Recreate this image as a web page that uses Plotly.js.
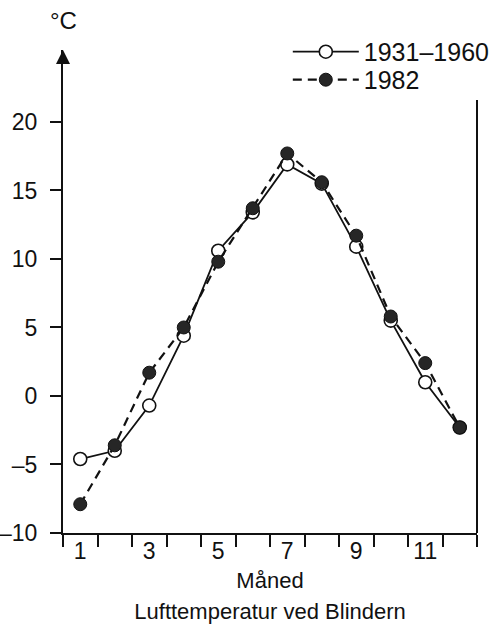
<!DOCTYPE html>
<html>
<head>
<meta charset="utf-8">
<script src="https://cdn.plot.ly/plotly-3.0.1.min.js"></script>
<style>
  html, body { margin: 0; padding: 0; background: #fff; }
  #chart { width: 502px; height: 630px; }
</style>
</head>
<body>
<div id="chart"></div>
<script>
// ---- data ----
const months = [1, 2, 3, 4, 5, 6, 7, 8, 9, 10, 11, 12];
const temp_1931_1960 = [-4.6, -4.0, -0.7, 4.4, 10.6, 13.4, 16.9, 15.5, 10.9, 5.5, 1.0, -2.3];
const temp_1982 = [-7.9, -3.6, 1.7, 5.0, 9.8, 13.7, 17.7, 15.6, 11.7, 5.8, 2.4, -2.3];
const xLabelVals = [1, 3, 5, 7, 9, 11];
const xLabelText = ['1', '3', '5', '7', '9', '11'];
const monthBounds = [0.5, 1.5, 2.5, 3.5, 4.5, 5.5, 6.5, 7.5, 8.5, 9.5, 10.5, 11.5, 12.5];
const yTickVals = [-10, -5, 0, 5, 10, 15, 20];
const yTickText = ['\u201310', '\u20135', '0', '5', '10', '15', '20'];
const seriesNames = ['1931\u20131960', '1982'];

const FONT = 'Liberation Sans, Arial, Helvetica, sans-serif';
const INK = '#111';

const traces = [
  {
    x: months, y: temp_1931_1960, name: seriesNames[0], legend: 'legend',
    type: 'scatter', mode: 'lines+markers',
    line: { color: INK, width: 1.8 },
    marker: { symbol: 'circle', size: 13, color: '#fff', line: { color: INK, width: 1.6 } }
  },
  {
    x: months, y: temp_1982, name: seriesNames[1], legend: 'legend2',
    type: 'scatter', mode: 'lines+markers',
    line: { color: INK, width: 2.2, dash: '9px,6px' },
    marker: { symbol: 'circle', size: 13, color: '#262626', line: { color: INK, width: 1 } }
  }
];

const legendCommon = {
  xanchor: 'left', yanchor: 'middle',
  bgcolor: 'rgba(0,0,0,0)', itemwidth: 66,
  font: { family: FONT, size: 25, color: INK }
};

const layout = {
  width: 502, height: 630,
  margin: { l: 63, r: 25, t: 50, b: 97, autoexpand: false },
  paper_bgcolor: '#fff', plot_bgcolor: '#fff',
  font: { family: FONT, color: INK, size: 23 },
  showlegend: true,
  legend: Object.assign({ x: 0.543, y: 0.996 }, legendCommon),
  legend2: Object.assign({ x: 0.543, y: 0.938 }, legendCommon),
  title: {
    text: 'Lufttemperatur ved Blindern',
    x: 0.538, xanchor: 'center', y: 0.03, yanchor: 'middle',
    font: { family: FONT, size: 22, color: INK }
  },
  xaxis: {
    range: [0.5, 12.5], showgrid: false, zeroline: false,
    showline: true, linecolor: INK, linewidth: 2,
    tickmode: 'array', tickvals: xLabelVals, ticktext: xLabelText,
    ticks: '', ticklabelstandoff: -4, tickfont: { family: FONT, size: 23, color: INK },
    minor: { tickmode: 'array', tickvals: monthBounds, ticks: 'outside', ticklen: 12, tickwidth: 2, tickcolor: INK, showgrid: false },
    title: { text: 'Måned', font: { family: FONT, size: 22, color: INK }, standoff: 10 },
    automargin: false,
    fixedrange: true
  },
  yaxis: {
    range: [-10, 25.25], showgrid: false, zeroline: false,
    showline: true, linecolor: INK, linewidth: 2,
    tickmode: 'array', tickvals: yTickVals, ticktext: yTickText,
    ticks: 'outside', ticklen: 11, tickwidth: 2, tickcolor: INK,
    ticklabelstandoff: 8,
    tickfont: { family: FONT, size: 23, color: INK },
    automargin: false,
    fixedrange: true
  },
  shapes: [
    { type: 'line', xref: 'paper', yref: 'y', x0: 1, x1: 1, y0: -10, y1: 21.6, line: { color: INK, width: 2 } }
  ],
  annotations: [
    { xref: 'paper', yref: 'paper', x: 0, y: 1, ax: 0, ay: 14, axref: 'pixel', ayref: 'pixel',
      showarrow: true, arrowhead: 2, arrowsize: 1.4, arrowwidth: 2, arrowcolor: INK, text: '' },
    { xref: 'paper', yref: 'paper', x: 0, y: 1.03, xanchor: 'center', yanchor: 'bottom', showarrow: false,
      text: '°C', font: { family: FONT, size: 24, color: INK } }
  ]
};

Plotly.newPlot('chart', traces, layout, { displayModeBar: false, staticPlot: true });
</script>
</body>
</html>
